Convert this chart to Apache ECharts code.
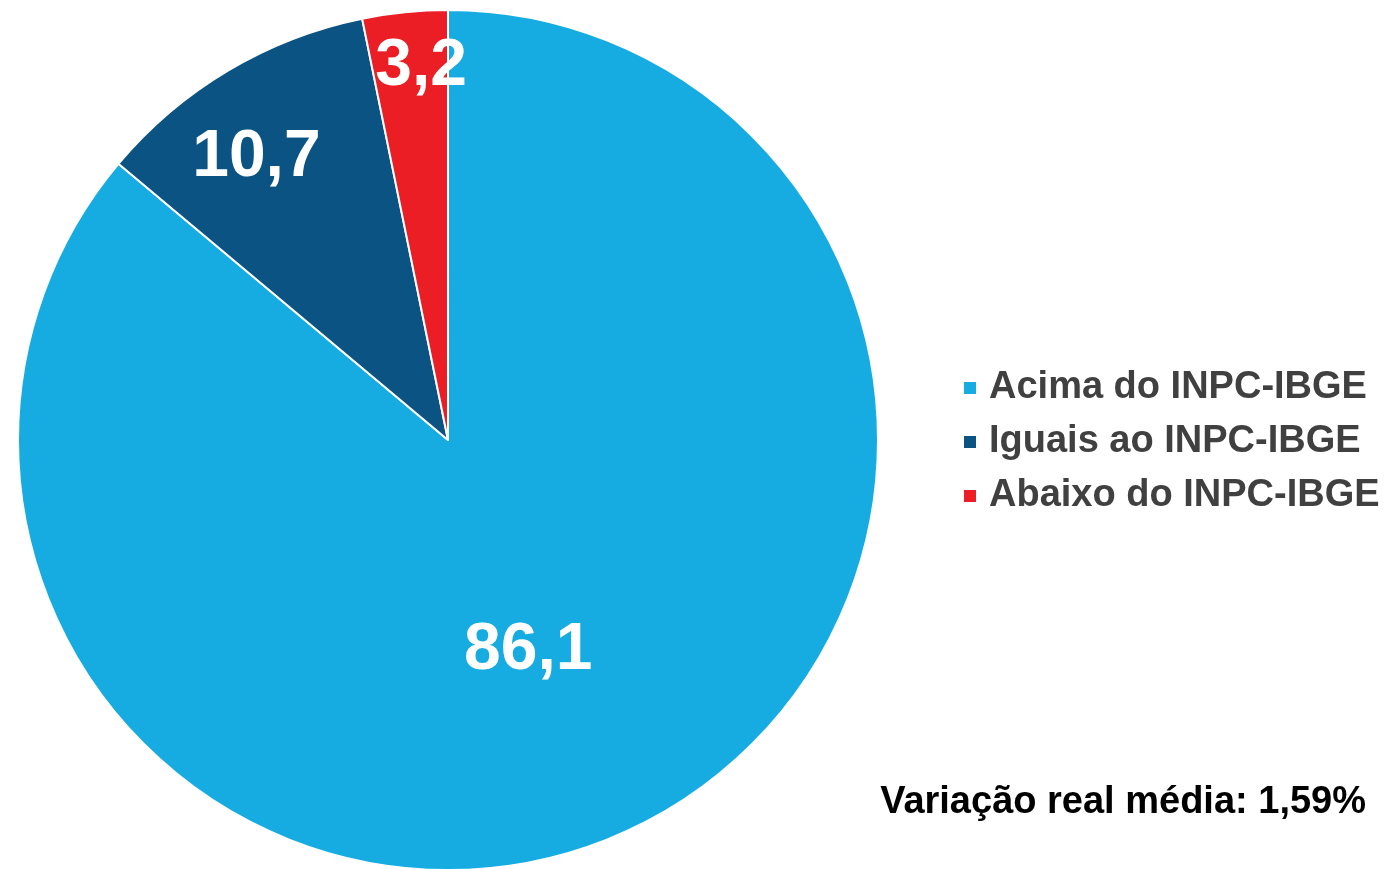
<!DOCTYPE html>
<html>
<head>
<meta charset="utf-8">
<script src="https://cdn.jsdelivr.net/npm/echarts@6/dist/echarts.min.js"></script>
<style>
  html, body { margin: 0; padding: 0; background: #fff; }
  #chart { width: 1386px; height: 869px; }
</style>
</head>
<body>
<div id="chart"></div>
<script>
  // categorias e valores (%)
  const categories = ['Acima do INPC-IBGE', 'Iguais ao INPC-IBGE', 'Abaixo do INPC-IBGE']
  const values = [86.1, 10.7, 3.2]
  const colors = ['#16ACE2', '#0B5383', '#EB1D25']
  // deslocamento dos rótulos (estilo)
  const labelOffsets = [[-12, 13], [-80, -95], [-5, -156]]
  const note = 'Variação real média: 1,59%'

  const myChart = echarts.init(document.getElementById('chart'))

  const options = {
    animation: false,
    legend: {
      orient: 'vertical',
      left: 957,
      top: 364,
      icon: 'rect',
      itemWidth: 14,
      itemHeight: 14,
      itemGap: 16,
      textStyle: {
        fontFamily: 'Liberation Sans, Arial, sans-serif',
        fontWeight: 'bold',
        fontSize: 38,
        color: '#404040',
        padding: [0, 0, 0, 7]
      },
      data: categories
    },
    graphic: [{
      type: 'text',
      right: 20,
      top: 784,
      style: {
        text: note,
        font: 'bold 38px "Liberation Sans", Arial, sans-serif',
        fill: '#000'
      }
    }],
    series: [{
      type: 'pie',
      center: [448, 440],
      radius: 430,
      startAngle: 90,
      clockwise: true,
      itemStyle: {
        borderColor: '#fff',
        borderWidth: 2
      },
      label: {
        show: true,
        position: 'inside',
        color: '#fff',
        fontFamily: 'Liberation Sans, Arial, sans-serif',
        fontWeight: 'bold',
        fontSize: 66,
        formatter: p => String(p.value).replace('.', ',')
      },
      labelLine: { show: false },
      emphasis: { disabled: true },
      data: categories.map((name, i) => ({
        name: name,
        value: values[i],
        itemStyle: { color: colors[i] },
        label: { offset: labelOffsets[i] }
      }))
    }]
  }
  myChart.setOption(options)
</script>
</body>
</html>
